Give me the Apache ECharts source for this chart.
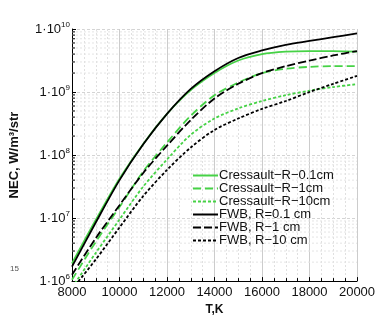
<!DOCTYPE html>
<html>
<head>
<meta charset="utf-8">
<script src="https://cdn.jsdelivr.net/npm/echarts@6/dist/echarts.min.js"></script>
<style>
  html, body { margin: 0; padding: 0; background: #fff; }
  #chart { width: 380px; height: 321px; }
</style>
</head>
<body>
<div id="chart"></div>
<script>
// ── 数据: T (K) 与 NEC (W/m³/str) ──

const temps = [8000, 9000, 10000, 11000, 12000, 13000, 14000, 15000, 16000, 17000, 18000, 19000, 20000]

const cressault01 = [1.9e6, 9.3e6, 4.2e7, 1.5e8, 4.5e8, 1.07e9, 2.0e9, 3.16e9, 4.0e9, 4.37e9, 4.47e9, 4.47e9, 4.37e9]
const cressault1 = [1.05e6, 4.2e6, 1.5e7, 5.5e7, 1.58e8, 4.2e8, 8.9e8, 1.41e9, 2.0e9, 2.34e9, 2.51e9, 2.57e9, 2.57e9]
const cressault10 = [7.9e5, 2.8e6, 9.5e6, 3.16e7, 8.5e7, 2.1e8, 3.8e8, 5.5e8, 7.2e8, 8.9e8, 1.05e9, 1.2e9, 1.33e9]
const fwb01 = [1.7e6, 8.5e6, 4.0e7, 1.48e8, 4.5e8, 1.12e9, 2.14e9, 3.47e9, 4.57e9, 5.62e9, 6.46e9, 7.41e9, 8.5e9]
const fwb1 = [1.26e6, 4.8e6, 1.6e7, 5.2e7, 1.41e8, 3.6e8, 7.9e8, 1.35e9, 2.0e9, 2.57e9, 3.16e9, 3.8e9, 4.47e9]
const fwb10 = [7.4e5, 2.2e6, 7.1e6, 2.24e7, 5.8e7, 1.32e8, 2.5e8, 3.8e8, 5.4e8, 7.2e8, 1.0e9, 1.35e9, 1.8e9]

const xTicks = [8000, 20000, 2000]
const yDecades = [1e6, 1e7, 1e8, 1e9, 1e10]
const minorMult = [2, 3, 4, 5, 6, 7, 8, 9]

const GREEN = '#46d246'
const BLACK = '#000'
const FONT = 'Liberation Sans'

// 对数次刻度 (2..9 × 10^n)
const minorVals = []
yDecades.slice(0, -1).forEach(d => minorMult.forEach(m => minorVals.push(m * d)))

const chart = echarts.init(document.getElementById('chart'), undefined, { renderer: 'canvas' })

const lineSeries = (name, arr, color, type) => ({
  name, type: 'line', data: temps.map((t, i) => [t, arr[i]]),
  showSymbol: false, symbol: 'none', smooth: 0.3, z: 5,
  lineStyle: { color, width: 1.8, type },
  itemStyle: { color },
})

const option = {
  backgroundColor: '#fff',
  animation: false,
  grid: { left: 72, right: 23, top: 29, bottom: 36 },
  xAxis: {
    type: 'value', min: xTicks[0], max: xTicks[1], interval: xTicks[2],
    name: 'T,K', nameLocation: 'middle', nameGap: 17,
    nameTextStyle: { fontFamily: FONT, fontSize: 12, fontWeight: 'bold', color: '#111' },
    axisLine: { lineStyle: { color: BLACK, width: 1 } },
    axisTick: { inside: true, length: 4, lineStyle: { color: BLACK } },
    minorTick: { show: true, splitNumber: 4, length: 3, lineStyle: { color: BLACK } },
    axisLabel: { fontFamily: FONT, fontSize: 13, color: '#111', margin: 5, formatter: v => String(v) },
    splitLine: { show: true, lineStyle: { color: '#cccccc', width: 1 } },
    minorSplitLine: { show: true, lineStyle: { color: '#e0e0e0', type: [2, 2] } },
  },
  yAxis: {
    type: 'log', logBase: 10, min: yDecades[0], max: yDecades[4],
    name: 'NEC, W/m³/str', nameLocation: 'middle', nameGap: 51,
    nameTextStyle: { fontFamily: FONT, fontSize: 13, fontWeight: 'bold', color: '#111' },
    axisLine: { show: true, lineStyle: { color: BLACK, width: 1 } },
    axisTick: { inside: true, length: 4, lineStyle: { color: BLACK } },
    axisLabel: {
      margin: 2, color: '#111', fontFamily: FONT, fontSize: 13,
      formatter: v => '1·10{s|' + Math.round(Math.log10(v)) + '}',
      rich: { s: { fontSize: 8, verticalAlign: 'top', padding: [0, 0, 8, 0], fontFamily: FONT, color: '#111' } },
    },
    splitLine: { show: true, lineStyle: { color: '#d4d4d4', type: [3, 2] } },
  },
  legend: {
    orient: 'vertical', left: 187, top: 164, itemWidth: 25, itemHeight: 14, itemGap: 0,
    data: ['Cressault−R−0.1cm', 'Cressault−R−1cm', 'Cressault−R−10cm', 'FWB, R=0.1 cm', 'FWB, R−1 cm', 'FWB, R−10 cm'],
    itemStyle: { color: 'rgba(0,0,0,0)', borderWidth: 0 },
    textStyle: { fontFamily: FONT, fontSize: 13, color: '#111', padding: [0, 0, 0, -4] },
  },
  graphic: [
    { type: 'text', left: 10, top: 265, style: { text: '15', fontSize: 8, fill: '#555', fontFamily: FONT } },
  ],
  series: [
    {
      // 对数次网格与刻度
      type: 'custom', silent: true, clip: false, z: 1,
      data: minorVals.map(v => [xTicks[0], v]),
      renderItem: (params, api) => {
        const p0 = api.coord([xTicks[0], api.value(1)])
        const p1 = api.coord([xTicks[1], api.value(1)])
        return {
          type: 'group',
          children: [
            { type: 'line', shape: { x1: p0[0], y1: p0[1], x2: p1[0], y2: p1[1] },
              style: { stroke: '#e4e4e4', lineWidth: 1, lineDash: [2, 2] } },
            { type: 'line', shape: { x1: p0[0], y1: p0[1], x2: p0[0] + 3, y2: p0[1] },
              style: { stroke: BLACK, lineWidth: 1 } },
          ],
        }
      },
    },
    lineSeries('Cressault−R−0.1cm', cressault01, GREEN, 'solid'),
    lineSeries('Cressault−R−1cm', cressault1, GREEN, [8, 4]),
    lineSeries('Cressault−R−10cm', cressault10, GREEN, [3, 2]),
    lineSeries('FWB, R=0.1 cm', fwb01, BLACK, 'solid'),
    lineSeries('FWB, R−1 cm', fwb1, BLACK, [8, 3]),
    lineSeries('FWB, R−10 cm', fwb10, BLACK, [3, 2]),
  ],
}

chart.setOption(option)
</script>
</body>
</html>
